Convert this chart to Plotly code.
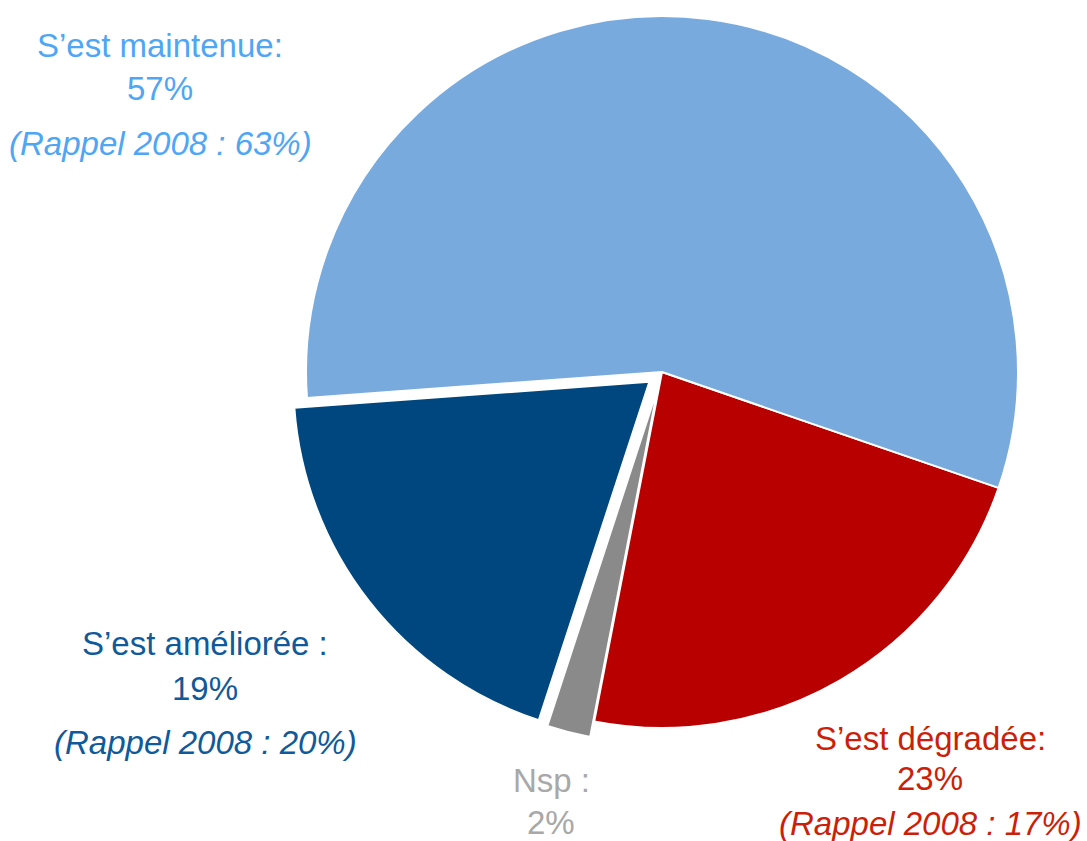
import plotly.graph_objects as go

# slice data, in drawing order (clockwise from the maintenue/dégradée border)
labels = ["S’est dégradée:", "Nsp :", "S’est améliorée :", "S’est maintenue:"]
values = [23, 2, 19, 57]
rappel_2008 = [17, None, 20, 63]
colors = ["#b80000", "#8a8a8a", "#00477f", "#78aade"]
text_colors = ["#cc1f0a", "#a8a8a8", "#0f5a9a", "#4ea6f5"]
pulls = [0, 0.045, 0.045, 0]

# where each label block sits (paper px: centre x, first line y)
label_pos = [(930, 738), (551, 780), (205, 643), (160, 45)]
line_gaps = [(40, 45), (42, 0), (45, 54), (43, 55)]

W, H = 1087, 841

fig = go.Figure()
fig.add_trace(go.Pie(
    labels=labels, values=values, sort=False, direction="clockwise",
    rotation=109, pull=pulls, textinfo="none", hoverinfo="label+percent",
    marker=dict(colors=colors, line=dict(color="white", width=2)),
    domain=dict(x=[(662 - 372) / W, (662 + 372) / W], y=[1 - 744 / H, 1]),
    showlegend=False,
))

font = "Liberation Sans"
for lab, val, rap, col, (cx, cy), (g1, g2) in zip(labels, values, rappel_2008, text_colors, label_pos, line_gaps):
    lines = [(lab, cy, False), (f"{val}%", cy + g1, False)]
    if rap is not None:
        lines.append((f"(Rappel 2008 : {rap}%)", cy + g1 + g2, True))
    for txt, y, it in lines:
        fig.add_annotation(
            text=f"<i>{txt}</i>" if it else txt,
            x=cx / W, y=1 - y / H, xref="paper", yref="paper",
            xanchor="center", yanchor="middle", showarrow=False,
            font=dict(family=font, size=33, color=col),
        )

fig.update_layout(
    width=W, height=H, margin=dict(l=0, r=0, t=0, b=0),
    paper_bgcolor="white", plot_bgcolor="white",
)
# the page's default body margin would shift the figure by 8px
fig.write_html("out.html", config={"displayModeBar": False},
               post_script="document.body.style.margin='0';")
